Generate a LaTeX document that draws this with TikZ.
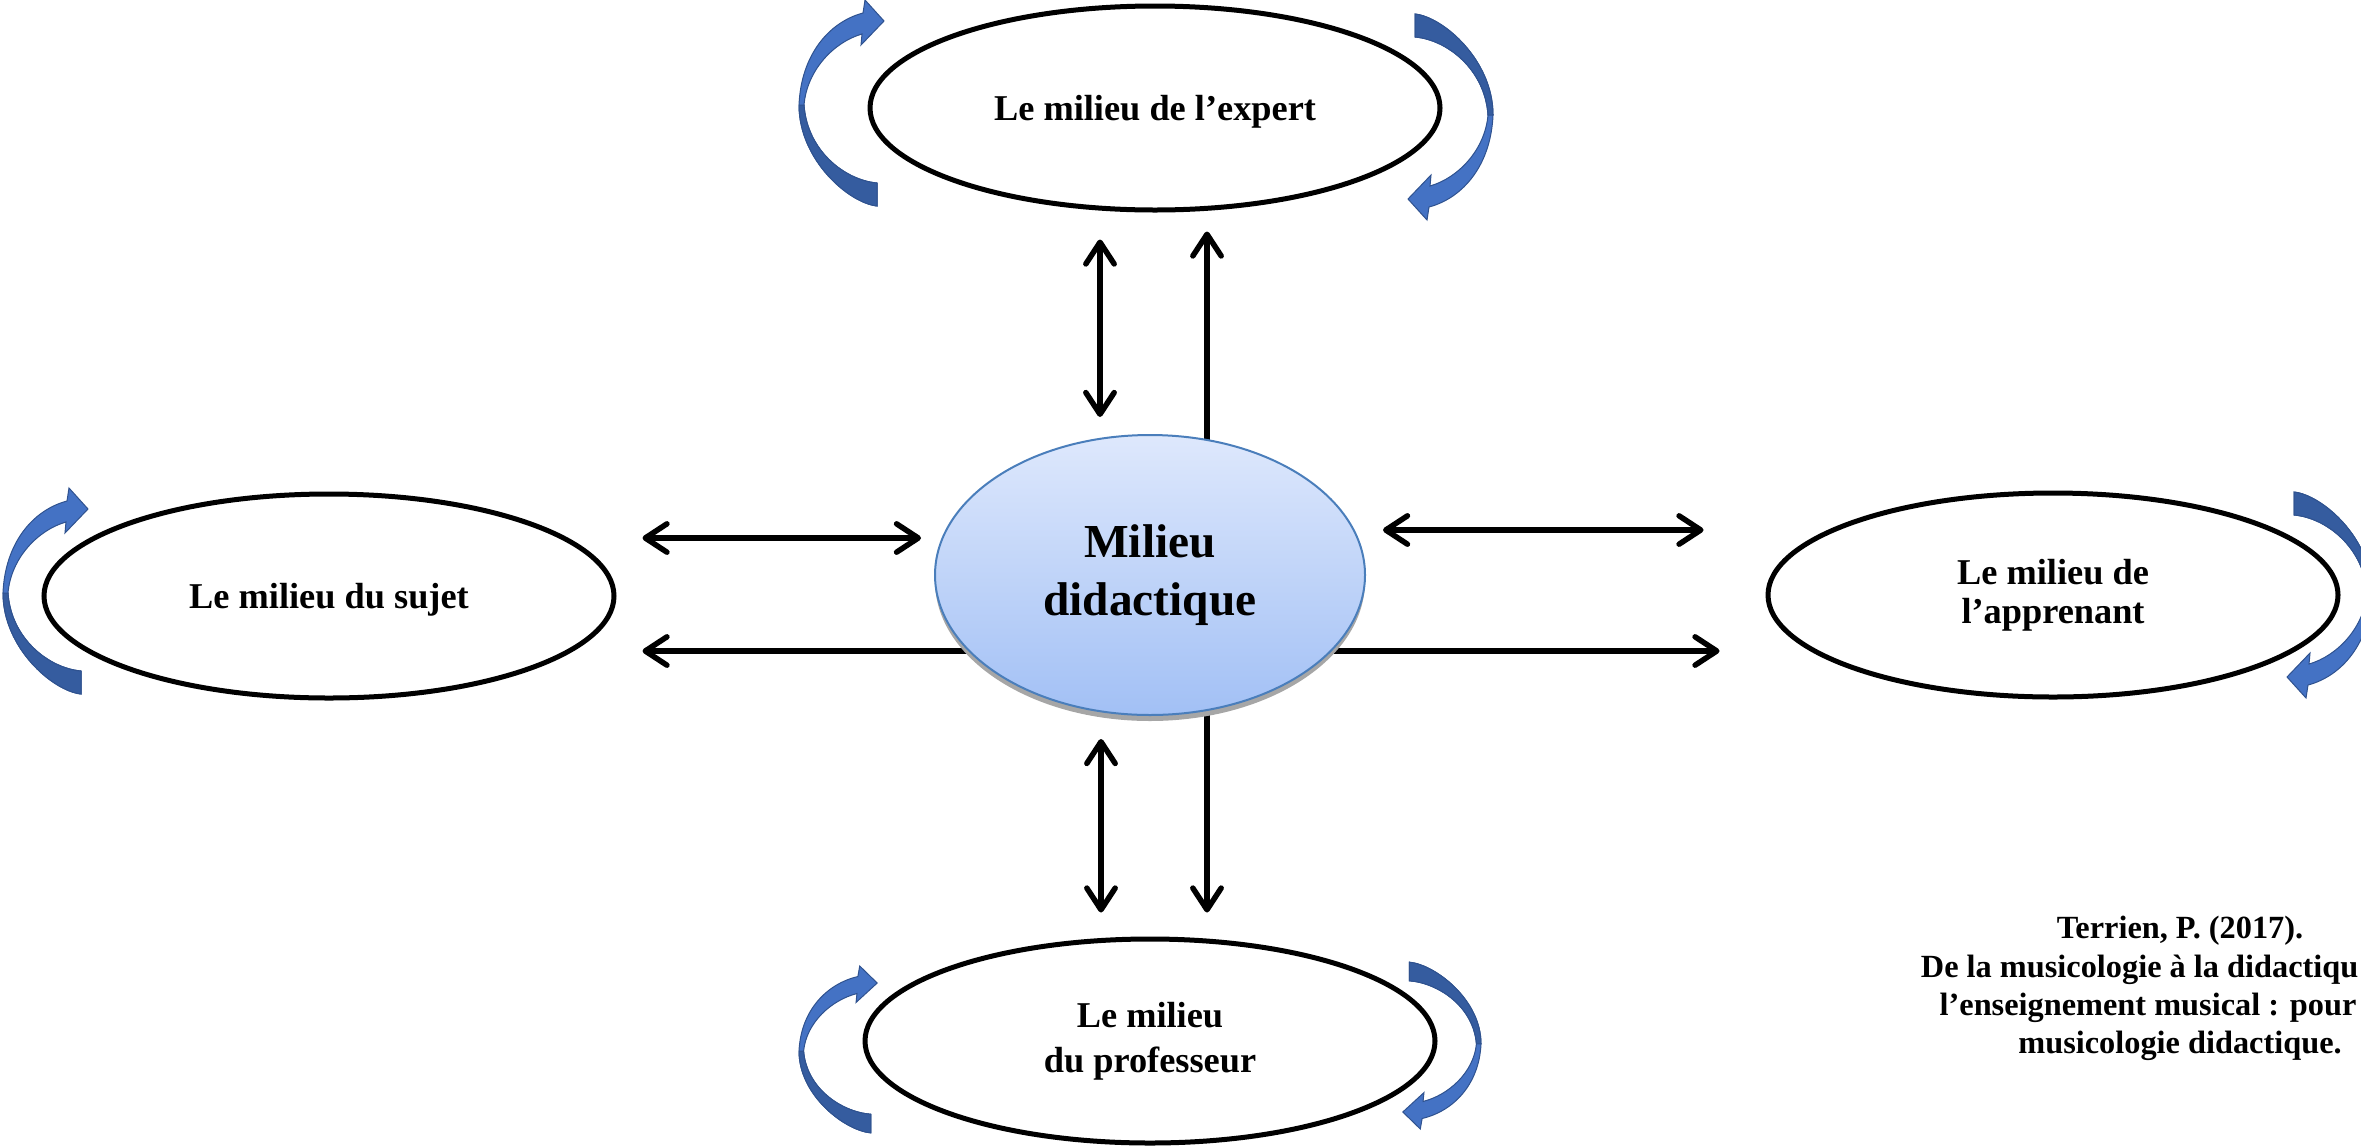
\documentclass[tikz,border=0pt]{standalone}
\usepackage{fontspec}
\setmainfont{Liberation Serif}
\usetikzlibrary{arrows.meta,calc,shapes.geometric}

\definecolor{bleuclair}{HTML}{4472C4}
\definecolor{bleufonce}{HTML}{355C9F}
\definecolor{bleutrait}{HTML}{2F528F}
\definecolor{centrehaut}{HTML}{DEE8FC}
\definecolor{centrebas}{HTML}{A2C0F5}
\definecolor{centretrait}{HTML}{4A7EBB}

\pgfdeclarelayer{fond}
\pgfsetlayers{fond,main}

\tikzset{every picture/.style={line width=0.75pt}}
\tikzset{
  milieu/.style={draw, ellipse, line width=1.5pt, minimum width=171pt, minimum height=61.2pt,
    inner sep=0pt, align=center, font=\bfseries\fontsize{10.9}{11.7}\selectfont,
    execute at begin node={\rule{0pt}{9.7pt}}},
  milieucentre/.style={ellipse, draw=centretrait, line width=0.6pt, top color=centrehaut,
    bottom color=centrebas, minimum width=129pt, minimum height=84pt, inner sep=0pt,
    align=center, font=\bfseries\fontsize{14.2}{17.4}\selectfont},
  ombre/.style={fill=black!35},
  fleche/.style={line width=1.65pt, >={Straight Barb[length=6.5pt,width=8.5pt,round]}},
  citation/.style={inner sep=0pt, font=\bfseries\fontsize{9.7}{11.4}\selectfont},
  boucle clair/.style={fill=bleuclair, draw=bleutrait, line width=0.3pt},
  boucle fonce/.style={fill=bleufonce, draw=bleutrait, line width=0.3pt},
  boucle/.pic={
    \begin{scope}[yscale=-1]
    \filldraw[boucle clair] (78,206) .. controls (50,203) and (0,160) .. (0,105)
      .. controls (2,55) and (30,22) .. (64,13) -- (66,0) -- (85,21) -- (62,45) -- (63,34)
      .. controls (35,42) and (8,70) .. (5,105) .. controls (8,150) and (45,180) .. (78,183) -- cycle;
    \filldraw[boucle fonce] (78,206) .. controls (50,203) and (0,160) .. (0,105) -- (5,105)
      .. controls (8,150) and (45,180) .. (78,183) -- cycle;
    \end{scope}
  }
}

\begin{document}
\begin{tikzpicture}[x=0.3pt,y=0.3pt,yscale=-1,xscale=1]
\useasboundingbox (0,0) rectangle (2361,1146);

%Shape: Ellipse (ombre)
\fill[ombre] (1150,581) ellipse [x radius=215, y radius=140];
%Shape: Ellipse
\node[milieucentre] (centre) at (1150,575) {Milieu\\didactique};
\node[milieu] (expert) at (1155,108) {Le milieu de l’expert};
\node[milieu] (sujet) at (329,596) {Le milieu du sujet};
\node[milieu] (apprenant) at (2053,595) {Le milieu de\\l’apprenant};
\node[milieu, font=\bfseries\fontsize{10.9}{13.5}\selectfont] (professeur) at (1150,1041) {Le milieu\\du professeur};

%Curve Arrows
\pic at (799,0) {boucle};
\pic[rotate=180] at (1493,220) {boucle};
\pic at (3,488) {boucle};
\pic[rotate=180] at (2372,698) {boucle};
\pic[xscale=0.92,yscale=0.81] at (799,966) {boucle};
\pic[xscale=0.92,yscale=0.81,rotate=180] at (1481,1129) {boucle};

%Straight Lines
\begin{pgfonlayer}{fond}
\draw[fleche,<->] ($(expert.south)+(-55,27)$) -- ($(centre.north)+(-50,-17)$);
\draw[fleche,->] ($(centre.north)+(57,30)$) -- ($(expert.south)+(52,19)$);
\draw[fleche,<->] ($(centre.south)+(-49,23)$) -- ($(professeur.north)+(-49,-24)$);
\draw[fleche,->] ($(centre.south)+(57,-30)$) -- ($(professeur.north)+(57,-24)$);
\draw[fleche,<->] ($(sujet.east)+(26,-58)$) -- ($(centre.west)+(-13,-37)$);
\draw[fleche,->] ($(centre.west)+(60,76)$) -- ($(sujet.east)+(26,55)$);
\draw[fleche,<->] ($(centre.east)+(17,-45)$) -- ($(apprenant.west)+(-62,-65)$);
\draw[fleche,->] ($(centre.east)+(-60,76)$) -- ($(apprenant.west)+(-46,56)$);
\end{pgfonlayer}

% Text Node
\node[citation, anchor=base] (source1) at (2180,938) {Terrien, P. (2017).};
\node[citation, anchor=base east] (source2) at (2359,977) {De la musicologie à la didactiqu};
\node[citation, anchor=base east] (source3) at (2357,1015) {l’enseignement musical : pour};
\node[citation, anchor=base] (source4) at (2180,1053) {musicologie didactique.};

\end{tikzpicture}
\end{document}
